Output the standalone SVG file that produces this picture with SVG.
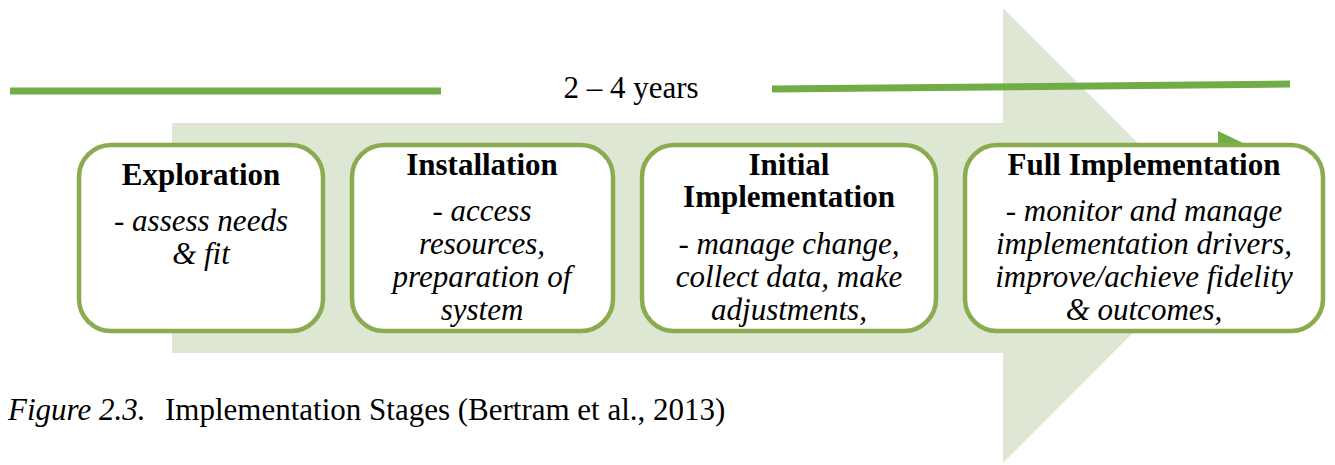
<svg xmlns="http://www.w3.org/2000/svg" width="1335" height="465" viewBox="0 0 1335 465">
  <style>
    .stage { fill: #ffffff; stroke: #8aab50; stroke-width: 4.5; }
    .title { font-family: "Liberation Serif", "Times New Roman", serif; font-weight: bold; font-size: 31px; text-anchor: middle; fill: #000; }
    .desc { font-family: "Liberation Serif", "Times New Roman", serif; font-style: italic; font-size: 31px; text-anchor: middle; fill: #000; }
    .plain { font-family: "Liberation Serif", "Times New Roman", serif; font-size: 31px; fill: #000; }
    .bar { stroke: #70ad47; stroke-width: 7; fill: none; }
  </style>

  <!-- background block arrow -->
  <path id="flow-arrow" d="M172,123 H1003 V8 L1230,235.5 L1003,463 V353 H172 Z" fill="#dde7d3"/>

  <!-- timeline bars and label -->
  <g id="connectors">
    <line class="bar" x1="10" y1="91" x2="441" y2="91"/>
    <line class="bar" x1="772" y1="89" x2="1290" y2="84"/>
    <polygon points="1218,131 1218,143 1243,143" fill="#70ad47"/>
  </g>
  <text class="plain" x="631" y="98" text-anchor="middle">2 – 4 years</text>

  <g id="exploration">
    <rect class="stage" x="79" y="145" width="244" height="186" rx="32"/>
    <text class="title" x="201" y="185">Exploration</text>
    <text class="desc" x="201" y="231">- assess needs</text>
    <text class="desc" x="201" y="264">&amp; fit</text>
  </g>

  <g id="installation">
    <rect class="stage" x="352" y="145" width="261" height="186" rx="32"/>
    <text class="title" x="482" y="175">Installation</text>
    <text class="desc" x="482" y="221">- access</text>
    <text class="desc" x="482" y="254">resources,</text>
    <text class="desc" x="482" y="287">preparation of</text>
    <text class="desc" x="482" y="320">system</text>
  </g>

  <g id="initial-implementation">
    <rect class="stage" x="642" y="145" width="294" height="186" rx="32"/>
    <text class="title" x="789" y="175">Initial</text>
    <text class="title" x="789" y="207">Implementation</text>
    <text class="desc" x="789" y="254">- manage change,</text>
    <text class="desc" x="789" y="287">collect data, make</text>
    <text class="desc" x="789" y="320">adjustments,</text>
  </g>

  <g id="full-implementation">
    <rect class="stage" x="965" y="145" width="358" height="186" rx="32"/>
    <text class="title" x="1144" y="175">Full Implementation</text>
    <text class="desc" x="1144" y="221">- monitor and manage</text>
    <text class="desc" x="1144" y="254">implementation drivers,</text>
    <text class="desc" x="1144" y="287">improve/achieve fidelity</text>
    <text class="desc" x="1144" y="320">&amp; outcomes,</text>
  </g>

  <!-- figure caption -->
  <text class="plain" x="8" y="420" font-style="italic">Figure 2.3.</text>
  <text class="plain" x="165" y="420">Implementation Stages (Bertram et al., 2013)</text>
</svg>
